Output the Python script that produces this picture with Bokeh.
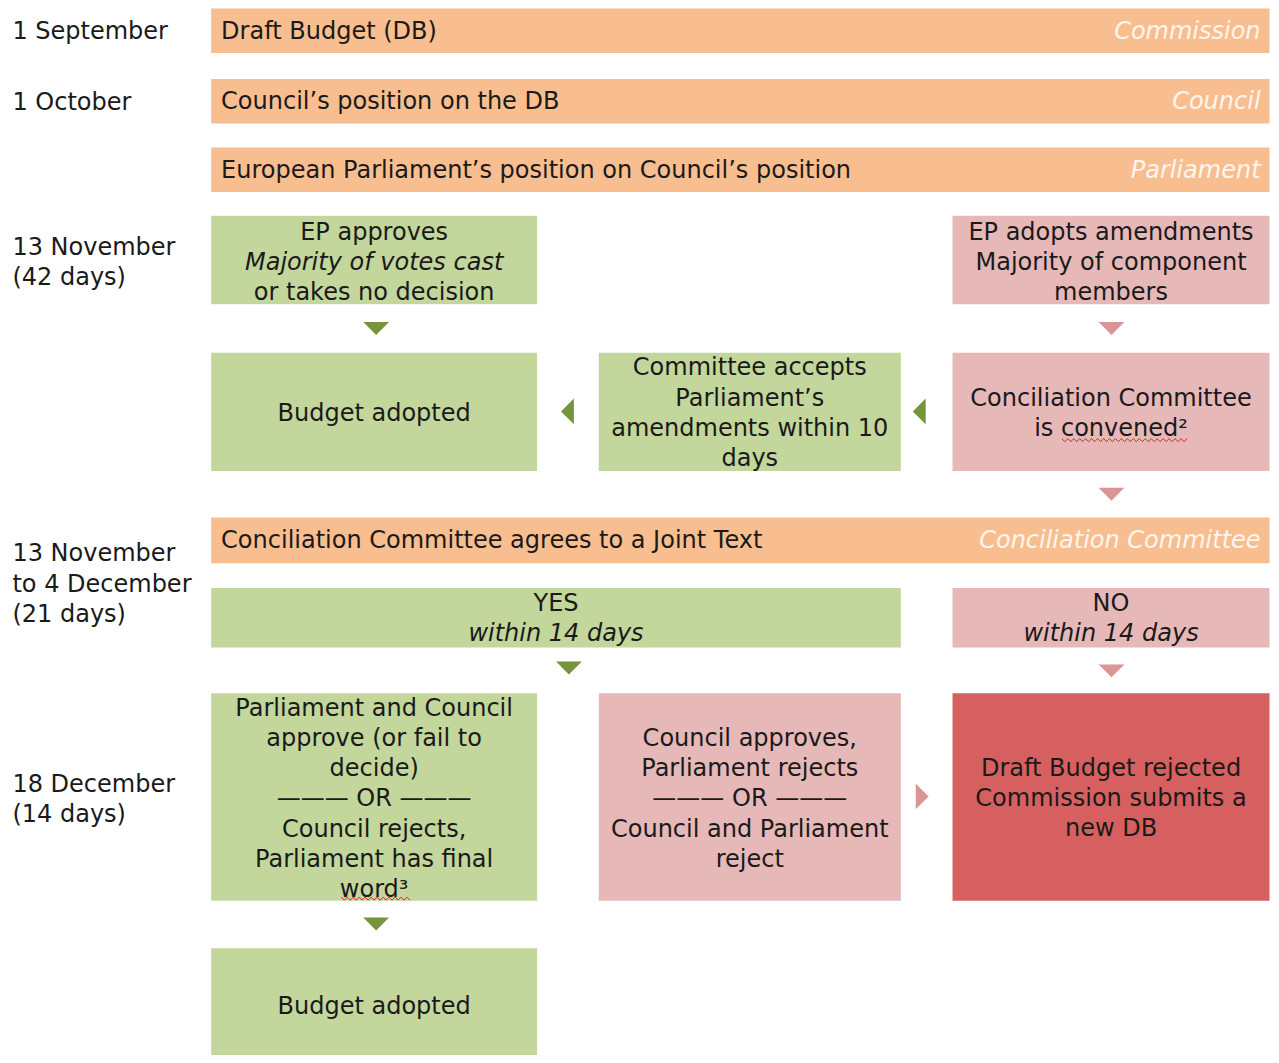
from bokeh.plotting import figure
from bokeh.models import Range1d, ColumnDataSource
from bokeh.core.properties import value
from bokeh.embed import file_html
from bokeh.resources import INLINE

# ---------------- data (texts) ----------------
stage_labels = [
    ["1 September"],
    ["1 October"],
    ["13 November", "(42 days)"],
    ["13 November", "to 4 December", "(21 days)"],
    ["18 December", "(14 days)"],
]
bar_texts = [
    "Draft Budget (DB)",
    "Council\u2019s position on the DB",
    "European Parliament\u2019s position on Council\u2019s position",
    "Conciliation Committee agrees to a Joint Text",
]
bar_actors = ["Commission", "Council", "Parliament", "Conciliation Committee"]

# box lines: (text, italic)
box_ep_approves = [("EP approves", False), ("Majority of votes cast", True), ("or takes no decision", False)]
box_ep_amends = [("EP adopts amendments", False), ("Majority of component", False), ("members", False)]
box_adopted_1 = [("Budget adopted", False)]
box_committee_accepts = [("Committee accepts", False), ("Parliament\u2019s", False),
                         ("amendments within 10", False), ("days", False)]
box_convened = [("Conciliation Committee", False), ("is convened\u00b2", False)]
box_yes = [("YES", False), ("within 14 days", True)]
box_no = [("NO", False), ("within 14 days", True)]
box_final_yes = [("Parliament and Council", False), ("approve (or fail to", False), ("decide)", False),
                 ("\u2014\u2014\u2014 OR \u2014\u2014\u2014", False), ("Council rejects,", False),
                 ("Parliament has final", False), ("word\u00b3", False)]
box_final_no = [("Council approves,", False), ("Parliament rejects", False),
                ("\u2014\u2014\u2014 OR \u2014\u2014\u2014", False), ("Council and Parliament", False),
                ("reject", False)]
box_rejected = [("Draft Budget rejected", False), ("Commission submits a", False), ("new DB", False)]
box_adopted_2 = [("Budget adopted", False)]

# ---------------- styles / layout ----------------
ORANGE = "#F8BE8F"
GREEN = "#C3D69B"
PINK = "#E6B8B7"
RED = "#D6605F"
GREEN_ARROW = "#77933C"
PINK_ARROW = "#D99694"
TXT = "#1a1a1a"
FONT = "DejaVu Sans"
FS = "24px"
LH = 30.5

W, H = 1271, 1055
p = figure(width=W, height=H, output_backend="svg", toolbar_location=None,
           x_range=Range1d(0, 1279), y_range=Range1d(1063, 0),
           min_border=0, outline_line_color=None)
p.axis.visible = False
p.grid.visible = False
p.background_fill_color = "white"
p.border_fill_color = "white"

# bars
bar_y = [(8, 53), (79, 124), (148, 193), (521, 567)]
p.quad(left=[212] * 4, right=[1277] * 4, bottom=[b for _, b in bar_y], top=[t for t, _ in bar_y],
       fill_color=ORANGE, line_color=None)
p.text(x=[222] * 4, y=[(t + b) / 2 for t, b in bar_y], text=bar_texts,
       text_font=value(FONT), text_font_size=FS, text_color=TXT,
       text_align="left", text_baseline="middle")
p.text(x=[1268] * 4, y=[(t + b) / 2 for t, b in bar_y], text=bar_actors,
       text_font=value(FONT), text_font_size=FS, text_color="#FEF6EE",
       text_font_style="italic", text_align="right", text_baseline="middle")

# boxes: (lines, x0, x1, y0, y1, color, text center y)
boxes = [
    (box_ep_approves, 212, 540, 217, 306, GREEN, 263.5),
    (box_ep_amends, 958, 1277, 217, 306, PINK, 263.5),
    (box_adopted_1, 212, 540, 355, 474, GREEN, 416),
    (box_committee_accepts, 602, 906, 355, 474, GREEN, 415.5),
    (box_convened, 958, 1277, 355, 474, PINK, 415.5),
    (box_yes, 212, 906, 592, 652, GREEN, 622),
    (box_no, 958, 1277, 592, 652, PINK, 622),
    (box_final_yes, 212, 540, 698, 907, GREEN, 804),
    (box_final_no, 602, 906, 698, 907, PINK, 804),
    (box_rejected, 958, 1277, 698, 907, RED, 803.5),
    (box_adopted_2, 212, 540, 955, 1063, GREEN, 1013),
]
p.quad(left=[b[1] for b in boxes], right=[b[2] for b in boxes],
       top=[b[3] for b in boxes], bottom=[b[4] for b in boxes],
       fill_color=[b[5] for b in boxes], line_color=None)

xs, ys, ts, st = [], [], [], []
for lines, x0, x1, y0, y1, col, cy in boxes:
    n = len(lines)
    for i, (t, it) in enumerate(lines):
        xs.append((x0 + x1) / 2)
        ys.append(cy + (i - (n - 1) / 2) * LH)
        ts.append(t)
        st.append("italic" if it else "normal")
src = ColumnDataSource(dict(x=xs, y=ys, text=ts, style=st))
p.text(x="x", y="y", text="text", source=src, text_font=value(FONT), text_font_size=FS,
       text_font_style="style", text_color=TXT, text_align="center", text_baseline="middle")

# spell-check style wavy underlines
squiggles = [(1068, 1196, 443), (343, 414, 905)]
sx, sy = [], []
for a, b, yy in squiggles:
    px_, py_ = [], []
    k = 0
    x = a
    while x <= b:
        px_.append(x)
        py_.append(yy + (1.5 if k % 2 else -1.5))
        x += 3
        k += 1
    sx.append(px_)
    sy.append(py_)
p.multi_line(xs=sx, ys=sy, line_color="#E02020", line_width=1)

# stage labels
lx, ly, lt = [], [], []
stage_y = [31, 102, 263.5, 587.5, 804.5]
for lab, cy in zip(stage_labels, stage_y):
    n = len(lab)
    for i, t in enumerate(lab):
        lx.append(12)
        ly.append(cy + (i - (n - 1) / 2) * LH)
        lt.append(t)
p.text(x=lx, y=ly, text=lt, text_font=value(FONT), text_font_size=FS, text_color=TXT,
       text_align="left", text_baseline="middle")

# arrows: (cx, cy, direction, color)
arrows = [
    (378, 330, "down", GREEN_ARROW), (1118, 330, "down", PINK_ARROW),
    (571, 414, "left", GREEN_ARROW), (925, 414, "left", GREEN_ARROW),
    (1118, 497, "down", PINK_ARROW),
    (572, 672, "down", GREEN_ARROW), (1118, 675, "down", PINK_ARROW),
    (927, 802, "right", PINK_ARROW),
    (378, 930, "down", GREEN_ARROW),
]
axs, ays, acs = [], [], []
for cx, cy, d, c in arrows:
    if d == "down":
        axs.append([cx - 13, cx + 13, cx]); ays.append([cy - 6, cy - 6, cy + 7])
    elif d == "left":
        axs.append([cx + 6, cx + 6, cx - 7]); ays.append([cy - 13, cy + 13, cy])
    else:
        axs.append([cx - 6, cx - 6, cx + 7]); ays.append([cy - 13, cy + 13, cy])
    acs.append(c)
p.patches(xs=axs, ys=ays, fill_color=acs, line_color=None)

open("out.html", "w").write(file_html(p, INLINE))
